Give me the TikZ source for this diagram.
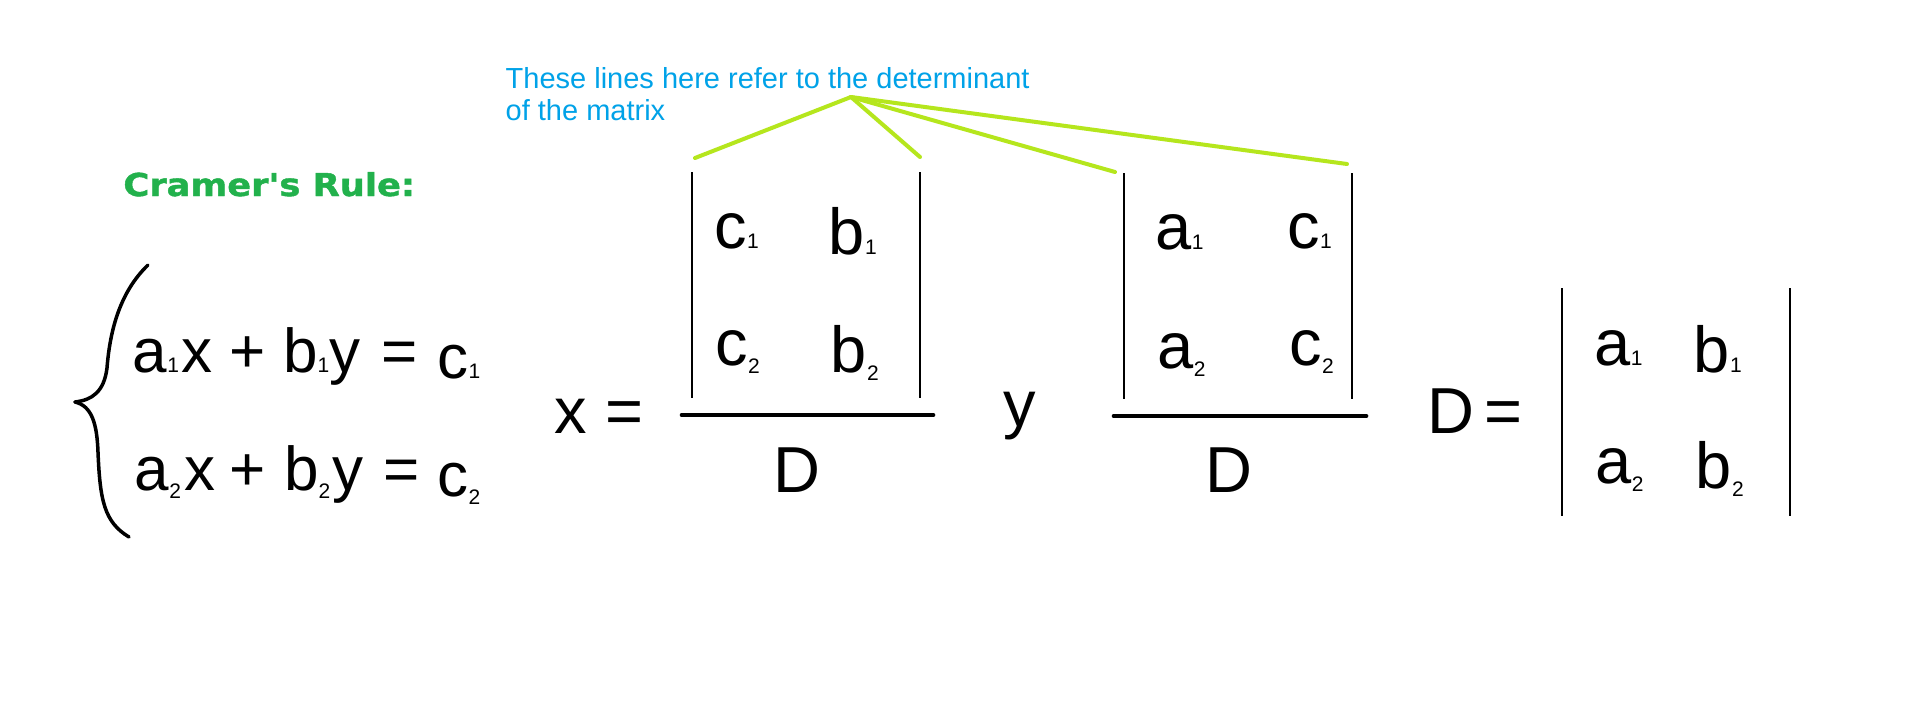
\documentclass[tikz,border=0pt]{standalone}
\usepackage{fontspec}
\setmainfont{Liberation Sans}
\newfontfamily\titlefont[BoldFeatures={FakeBold=1.3}]{DejaVu Sans}
\definecolor{myLime}{HTML}{B5E61D}
\definecolor{myBlue}{HTML}{00A2E8}
\definecolor{myGreen}{HTML}{22B14C}
\newcommand\lo[1]{{\fontsize{21}{21}\selectfont #1}}
\newcommand\lt[1]{\raisebox{-8pt}{\fontsize{21}{21}\selectfont #1}}
\tikzset{
  big/.style={inner sep=0pt, anchor=base west, font=\fontsize{65}{78}\selectfont},
  eqn/.style={inner sep=0pt, anchor=base west, font=\fontsize{62}{74}\selectfont},
  note/.style={inner sep=0pt, anchor=base west, font=\fontsize{29}{35}\selectfont, text=myBlue},
  title/.style={inner sep=0pt, anchor=base west, font=\titlefont\bfseries\fontsize{31.5}{38}\selectfont, text=myGreen},
  fracbar/.style={line width=4.7pt, line cap=round},
  detline/.style={line width=1.2pt},
  pointer/.style={line width=4pt, line cap=round, draw=myLime},
  bracestyle/.style={line width=3.5pt, line cap=round, line join=round},
}
\begin{document}
\begin{tikzpicture}[x=1pt, y=-1pt]
\path[fill=white, use as bounding box] (0,0) rectangle (1920,712);

% note and pointer lines
\node[note] (note1) at (505.5,88) {These lines here refer to the determinant};
\node[note] (note2) at (505.5,120) {of the matrix};
\coordinate (apex) at (851,97);
\coordinate (p1) at (695,158);
\coordinate (p2) at (920,157);
\coordinate (p3) at (1115,172);
\coordinate (p4) at (1347,164);
\draw[pointer] (apex) -- (p1);
\draw[pointer] (apex) -- (p2);
\draw[pointer] (apex) -- (p3);
\draw[pointer] (apex) -- (p4);

% title
\node[title] (title) at (123.2,196) {\scalebox{1.12}[1]{Cramer's Rule:}};

% brace
\draw[bracestyle] (148,265) .. controls (120,292) and (110,330) .. (107,368)
  .. controls (104,392) and (92,400) .. (75,402);
\draw[bracestyle] (75,402) .. controls (92,406) and (97,424) .. (98,452)
  .. controls (100,500) and (104,522) .. (129,537);

% system of equations
\node[eqn] (eq1) at (132.7,372) {a\lo{1}\hspace{2.5pt}x\hspace{17pt}+\hspace{17.3pt}b\lo{1}y\hspace{21.3pt}=\hspace{19.9pt}\raisebox{-6pt}{c\lo{1}}};
\node[eqn] (eq2) at (134.7,490) {a\lt{2}\hspace{3.5pt}x\hspace{14pt}+\hspace{18.3pt}b\lt{2}\hspace{2.6pt}y\hspace{19.7pt}=\hspace{17.9pt}\raisebox{-6pt}{c\lt{2}}};

% x = fraction
\node[big] (xeq) at (554.4,433) {x =};
\coordinate (m1tl) at (692,172);
\coordinate (m1bl) at (692,398);
\coordinate (m1tr) at (920,172);
\coordinate (m1br) at (920,398);
\draw[detline] (m1tl) -- (m1bl);
\draw[detline] (m1tr) -- (m1br);
\node[big] (m1a) at (714.4,248) {c\lo{1}};
\node[big] (m1b) at (828.7,254) {b\lo{1}};
\node[big] (m1c) at (715.4,365) {c\lt{2}};
\node[big] (m1d) at (830.7,372) {b\lt{2}};
\coordinate (f1l) at (682,415);
\coordinate (f1r) at (933,415);
\draw[fracbar] (f1l) -- (f1r);
\node[big] (d1) at (772.9,492) {D};

% y fraction
\node[big] (yeq) at (1003.4,426) {y};
\coordinate (m2tl) at (1124,173);
\coordinate (m2bl) at (1124,399);
\coordinate (m2tr) at (1352,173);
\coordinate (m2br) at (1352,399);
\draw[detline] (m2tl) -- (m2bl);
\draw[detline] (m2tr) -- (m2br);
\node[big] (m2a) at (1155.6,249) {a\lo{1}};
\node[big] (m2b) at (1287.4,248) {c\lo{1}};
\node[big] (m2c) at (1157.6,368) {a\lt{2}};
\node[big] (m2d) at (1289.4,365) {c\lt{2}};
\coordinate (f2l) at (1114,416);
\coordinate (f2r) at (1366,416);
\draw[fracbar] (f2l) -- (f2r);
\node[big] (d2) at (1204.9,492) {D};

% D = determinant
\node[big] (deq) at (1426.9,433) {D\hspace{10.4pt}=};
\coordinate (m3tl) at (1562,288);
\coordinate (m3bl) at (1562,516);
\coordinate (m3tr) at (1790,288);
\coordinate (m3br) at (1790,516);
\draw[detline] (m3tl) -- (m3bl);
\draw[detline] (m3tr) -- (m3br);
\node[big] (m3a) at (1594.6,365) {a\lo{1}};
\node[big] (m3b) at (1693.7,372) {b\lo{1}};
\node[big] (m3c) at (1595.6,483) {a\lt{2}};
\node[big] (m3d) at (1695.7,488) {b\lt{2}};
\end{tikzpicture}
\end{document}
